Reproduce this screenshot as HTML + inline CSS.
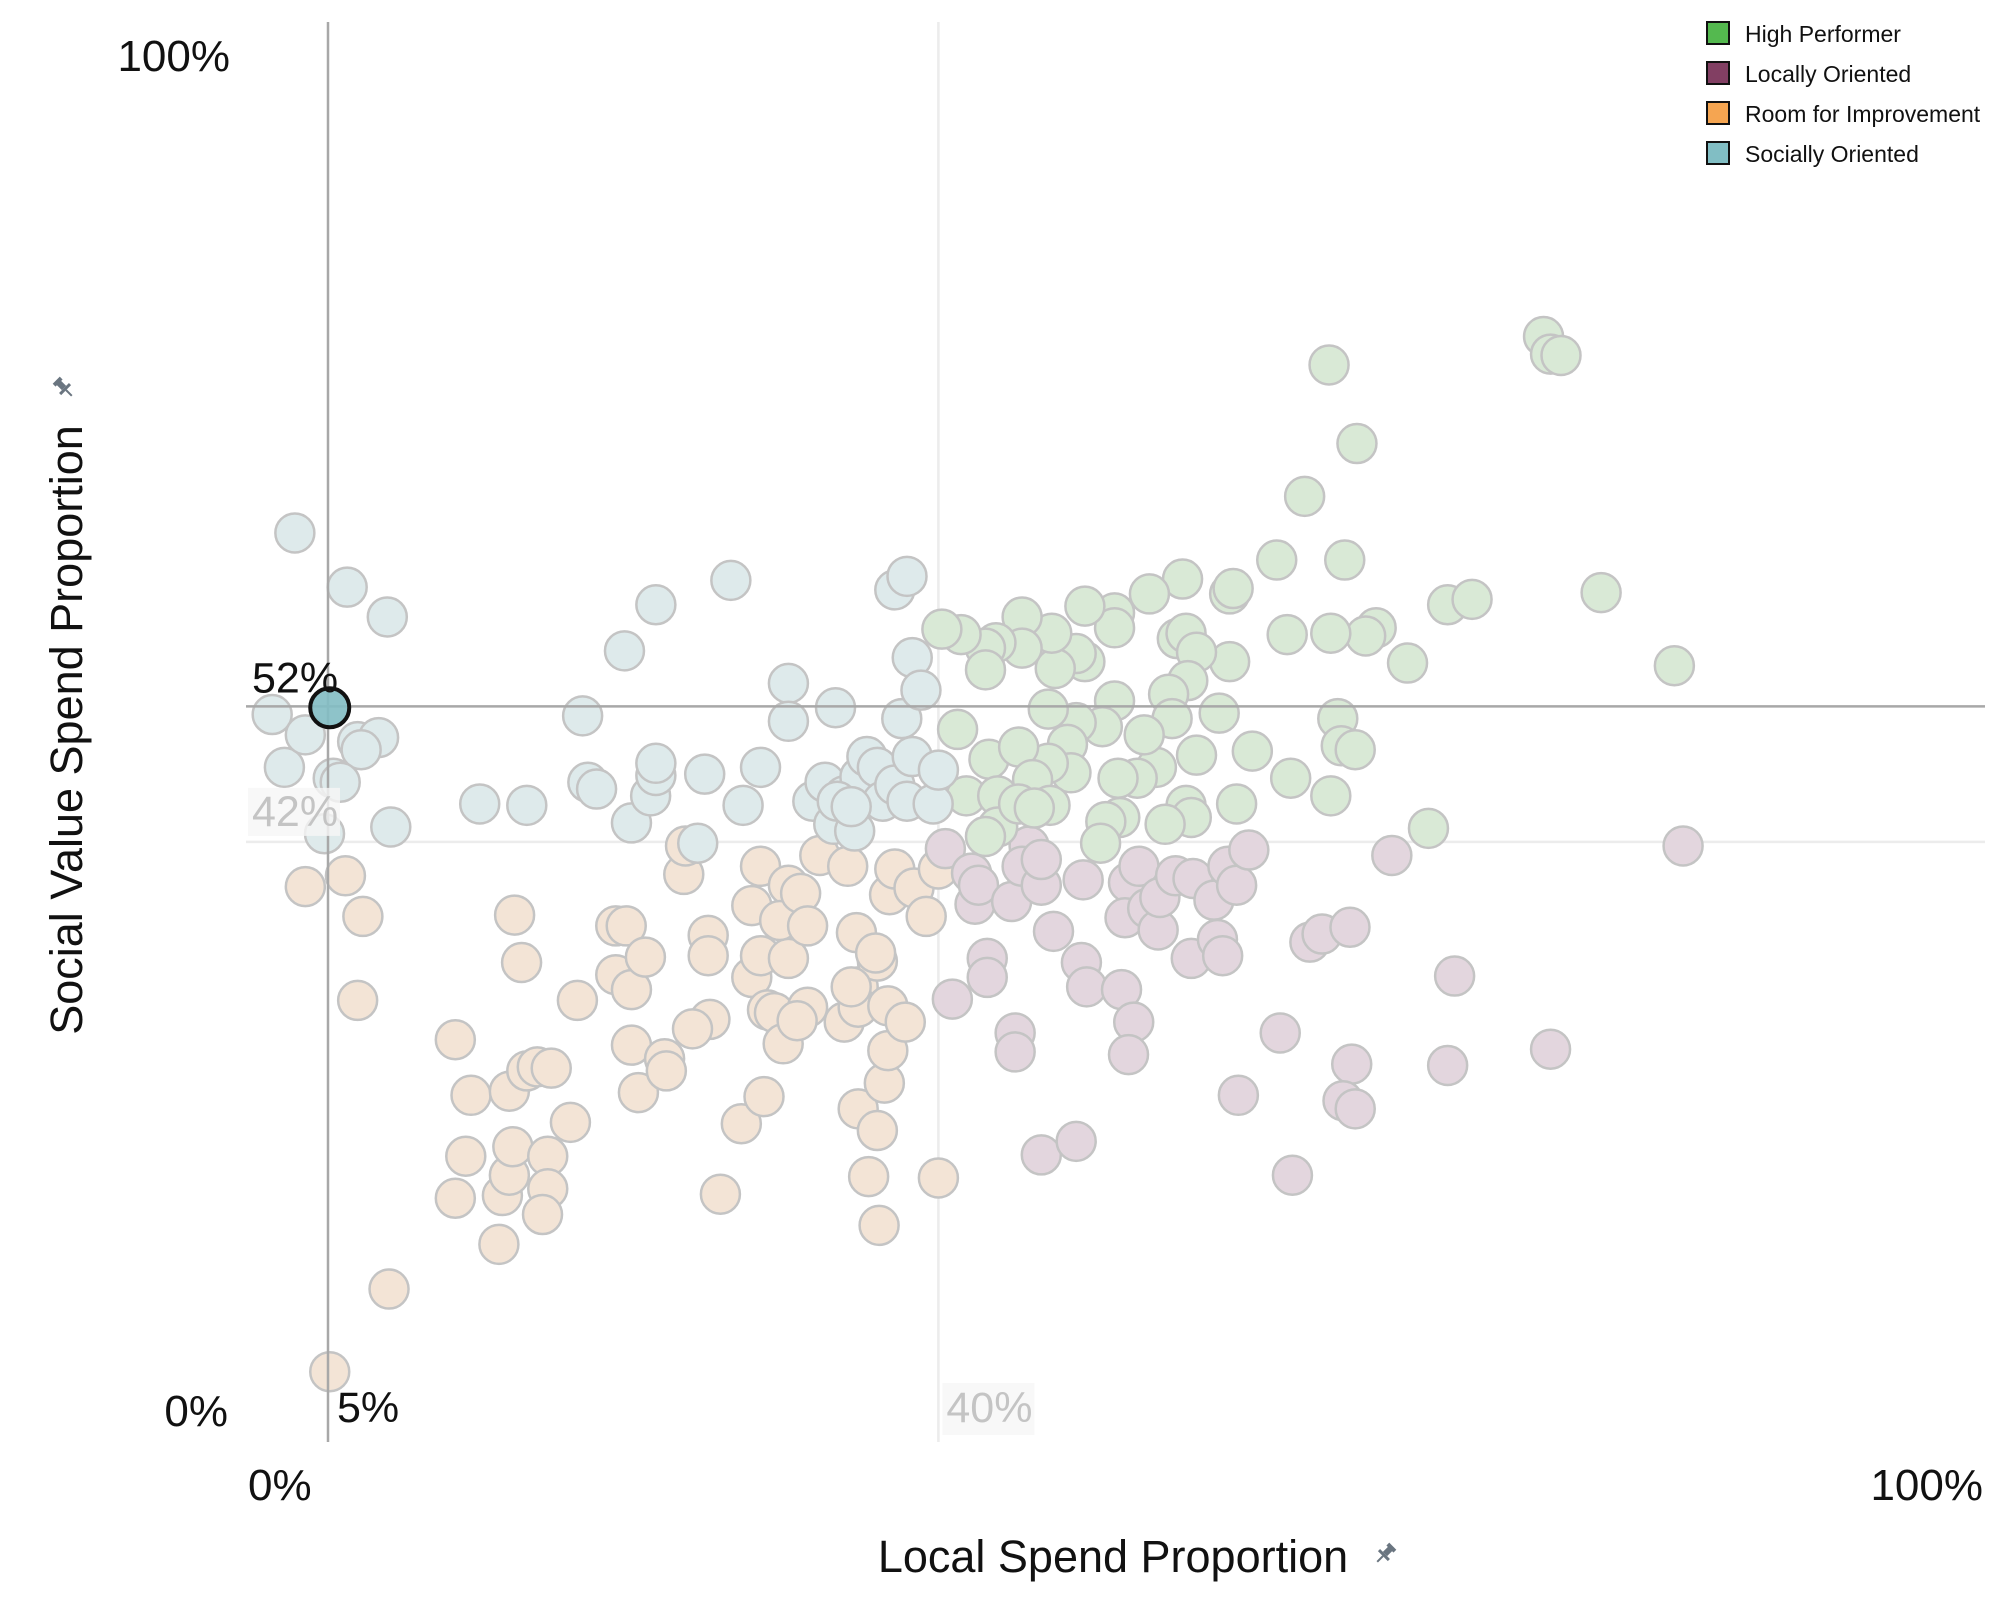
<!DOCTYPE html>
<html><head><meta charset="utf-8">
<style>
html,body{margin:0;padding:0;background:#fff;}
svg{display:block;font-family:"Liberation Sans",sans-serif;}
</style></head>
<body>
<svg id="chart" width="2000" height="1600" viewBox="0 0 2000 1600" xmlns="http://www.w3.org/2000/svg">
  <g id="grid"></g>
  <g id="marks"></g>
  <g id="labels"></g>
  <g font-size="23" fill="#111">
    <g><rect x="1707" y="22" width="22" height="22" fill="#54b94f" stroke="#111" stroke-width="2"/><text x="1745" y="42">High Performer</text></g>
    <g><rect x="1707" y="62" width="22" height="22" fill="#823f63" stroke="#111" stroke-width="2"/><text x="1745" y="82">Locally Oriented</text></g>
    <g><rect x="1707" y="102" width="22" height="22" fill="#f5a551" stroke="#111" stroke-width="2"/><text x="1745" y="122">Room for Improvement</text></g>
    <g><rect x="1707" y="142" width="22" height="22" fill="#81bec4" stroke="#111" stroke-width="2"/><text x="1745" y="162">Socially Oriented</text></g>
  </g>
  <text x="1113" y="1572" font-size="45" text-anchor="middle" fill="#111">Local Spend Proportion</text>
  <g transform="translate(1385,1554) rotate(45)" fill="#6a7580">
    <rect x="-5" y="-11" width="10" height="4"/><rect x="-3" y="-8" width="6" height="8"/><rect x="-7" y="0" width="14" height="3"/><rect x="-1" y="3" width="2" height="8"/>
  </g>
  <text transform="translate(82,730) rotate(-90)" font-size="45" text-anchor="middle" fill="#111">Social Value Spend Proportion</text>
  <g transform="translate(64,388) rotate(-45)" fill="#6a7580">
    <rect x="-5" y="-11" width="10" height="4"/><rect x="-3" y="-8" width="6" height="8"/><rect x="-7" y="0" width="14" height="3"/><rect x="-1" y="3" width="2" height="8"/>
  </g>
</svg>
<script>
const xTicks = [0, 100];
const yTicks = [0, 100];
const xTickLabels = ["0%", "100%"];
const yTickLabels = ["0%", "100%"];
const refX = [5, 40];
const refY = [52, 42];
const highlightPoint = [5.1, 51.9];

const socialX = [3.1,6.1,8.4,1.8,2.5,3.7,6.7,7.9,6.9,5.3,5.7,4.8,8.6,13.7,16.4,19.6,19.9,20.4,22.0,22.4,23.5,23.8,23.8,23.8,26.6,28.1,28.8,29.8,26.2,31.4,31.4,32.8,33.5,34.1,34.0,35.2,34.6,35.5,35.9,36.5,36.8,37.5,37.9,37.5,38.2,38.5,38.5,39.0,38.2,39.7,40.0,34.2,35.0];
const socialY = [64.8,60.8,58.6,51.4,47.5,49.9,49.4,49.7,48.8,46.7,46.4,42.6,43.1,44.8,44.7,51.3,46.4,45.9,56.1,43.4,45.4,46.9,47.8,59.5,47.0,61.3,44.7,47.5,41.9,53.7,50.9,45.0,46.4,51.9,43.3,42.8,45.4,46.8,48.3,47.5,45.0,46.2,51.1,60.6,61.6,48.3,55.6,53.2,45.0,44.8,47.3,45.0,44.6];

const roomX = [3.7,6.0,7.0,6.7,12.3,13.2,12.3,12.9,14.8,15.0,15.4,15.6,15.4,16.4,17.0,17.8,17.6,17.6,17.3,18.9,15.7,16.1,19.3,8.5,5.1,21.5,22.1,21.5,22.4,23.2,22.4,22.8,24.3,24.4,25.4,25.5,26.8,26.8,26.9,25.9,28.7,27.5,29.3,29.3,29.8,29.8,30.0,30.2,30.6,31.1,31.4,31.4,30.9,32.1,32.5,32.5,31.9,33.2,34.6,34.8,35.3,35.4,35.4,35.4,36.0,36.6,36.5,36.9,37.1,37.1,36.5,36.4,37.2,37.5,38.1,38.6,39.3,40.0,40.0,35.0];
const roomY = [38.7,39.5,36.5,30.3,27.4,23.3,15.7,18.8,12.3,15.9,17.4,19.5,23.6,25.1,25.4,25.3,18.8,16.4,14.5,21.3,36.6,33.1,30.3,9.0,2.9,35.8,35.8,32.2,31.1,33.5,27.0,23.5,26.0,25.1,39.6,41.7,35.1,33.6,28.9,28.2,21.2,16.0,32.0,37.3,40.2,33.6,23.2,29.6,29.4,27.1,33.4,38.8,36.2,38.2,35.8,29.8,28.8,41.0,28.7,40.2,35.3,31.3,29.8,22.3,17.3,13.7,20.7,24.2,26.6,29.9,33.2,33.8,38.1,40.0,28.7,38.6,36.5,17.2,40.0,31.3];

const localX = [40.4,41.9,42.1,42.3,40.8,42.8,42.8,44.2,44.4,44.4,45.2,44.8,45.9,45.9,46.6,45.9,47.9,48.3,48.2,48.5,50.5,51.2,50.9,50.9,51.5,50.7,52.0,52.6,52.7,53.6,54.6,54.5,55.8,56.0,56.3,56.6,57.1,57.8,57.2,59.6,60.3,61.3,62.0,63.6,63.7,63.2,63.9,66.0,69.2,69.6,75.1,82.7];
const localY = [41.5,39.7,37.4,38.8,30.4,33.4,32.0,37.6,27.9,26.5,41.7,40.2,38.8,40.7,35.4,18.9,19.9,39.2,33.1,31.3,31.1,28.7,26.3,39.0,40.2,36.4,37.1,35.5,37.9,39.5,39.3,33.4,37.7,34.8,33.6,40.2,38.8,41.4,23.3,27.9,17.4,34.6,35.2,35.7,25.6,22.9,22.3,41.0,25.5,32.1,26.7,41.7];

const highX = [62.4,64.0,74.7,75.1,75.7,61.0,59.4,63.3,78.0,82.2,69.2,70.6,65.1,64.5,62.5,60.0,66.9,62.9,63.1,63.9,60.2,62.5,68.1,58.0,57.1,56.7,56.7,56.9,54.0,52.1,50.1,50.1,48.4,53.7,54.2,54.8,54.3,53.2,53.4,56.1,54.8,52.5,51.4,51.8,54.2,54.5,53.0,50.3,50.4,49.6,49.3,50.1,49.4,47.9,48.4,47.9,46.7,46.5,46.3,47.4,47.6,46.3,44.8,44.8,43.3,42.7,42.7,41.3,40.2,41.1,42.9,44.6,41.6,43.4,43.4,42.7,45.4,44.6,46.4,45.5];
const highY = [77.2,71.4,79.3,78.0,77.9,67.5,62.8,62.8,60.4,55.0,59.5,59.9,57.8,57.2,57.4,57.3,55.2,51.1,49.1,48.8,46.7,45.4,43.0,48.7,44.8,55.3,60.3,60.7,61.4,60.3,58.9,57.8,59.4,57.0,57.4,56.0,53.9,52.9,51.1,51.5,48.4,47.5,46.7,49.9,44.7,43.8,43.3,46.7,43.8,43.5,41.9,52.4,50.5,50.8,55.3,55.9,54.8,57.4,51.8,49.2,47.1,47.8,58.6,56.3,56.7,56.3,54.7,57.3,57.7,50.3,48.1,49.0,45.4,45.4,43.1,42.4,46.6,44.8,44.7,44.5];

const NS = "http://www.w3.org/2000/svg";
const X0 = 240.8, XK = 17.44, Y0 = 1411, YK = 13.55;
function xScale(v){ return X0 + v * XK; }
function yScale(v){ return Y0 - v * YK; }
function mk(tag, attrs, parent){
  const e = document.createElementNS(NS, tag);
  for (const k in attrs) e.setAttribute(k, attrs[k]);
  parent.appendChild(e);
  return e;
}
const grid = document.getElementById('grid');
const marks = document.getElementById('marks');
const labels = document.getElementById('labels');

const lv = mk('line', {x1:xScale(refX[1]), x2:xScale(refX[1]), y1:22, y2:1442, stroke:'#ececec', 'stroke-width':2.5}, grid);


const lh = mk('line', {x1:246, x2:1985, y1:yScale(refY[1]), y2:yScale(refY[1]), stroke:'#ececec', 'stroke-width':2.5}, grid);



function drawSeries(xs, ys, fill, name){
  for (let i = 0; i < xs.length; i++){
    const c = mk('circle', {cx:xScale(xs[i]), cy:yScale(ys[i]), r:19.5, fill:fill, stroke:'#c4c4c4', 'stroke-width':2.5}, marks);
    
    
  }
}
drawSeries(roomX, roomY, '#f3e4d6', 'room-for-improvement');
drawSeries(localX, localY, '#e3d6de', 'locally-oriented');
drawSeries(highX, highY, '#d9e9d6', 'high-performer');
drawSeries(socialX, socialY, '#deeaeb', 'socially-oriented');

const dv = mk('line', {x1:xScale(refX[0]), x2:xScale(refX[0]), y1:22, y2:1442, stroke:'#a8a8a8', 'stroke-width':2.5}, marks);


const dh = mk('line', {x1:246, x2:1985, y1:yScale(refY[0]), y2:yScale(refY[0]), stroke:'#a8a8a8', 'stroke-width':2.5}, marks);



const hp = mk('circle', {cx:xScale(highlightPoint[0]), cy:yScale(highlightPoint[1]), r:19.5, fill:'#82bdc3', 'fill-opacity':0.9, stroke:'#111', 'stroke-width':4}, marks);



function txt(s, attrs, name){
  const t = mk('text', attrs, labels);
  t.textContent = s;
  
  
  return t;
}
txt(yTickLabels[0], {x:228, y:yScale(yTicks[0]) + 15, 'font-size':44, 'text-anchor':'end', fill:'#111'}, 'y-tick-0');
txt(yTickLabels[1], {x:230, y:yScale(yTicks[1]) + 15, 'font-size':44, 'text-anchor':'end', fill:'#111'}, 'y-tick-100');
txt(xTickLabels[0], {x:248, y:1500, 'font-size':44, fill:'#111'}, 'x-tick-0');
txt(xTickLabels[1], {x:1983, y:1500, 'font-size':44, 'text-anchor':'end', fill:'#111'}, 'x-tick-100');
txt(refY[0] + '%', {x:252, y:yScale(refY[0]) - 14, 'font-size':43, fill:'#111'}, 'ref-label-y-52');
const b1 = mk('rect', {x:248, y:yScale(refY[1]) - 54, width:92, height:48, fill:'#f6f6f6', 'fill-opacity':0.8}, labels);


txt(refY[1] + '%', {x:252, y:yScale(refY[1]) - 16, 'font-size':43, fill:'#c4c4c4'}, 'ref-label-y-42');
txt(refX[0] + '%', {x:xScale(refX[0]) + 9, y:1422, 'font-size':43, fill:'#111'}, 'ref-label-x-5');
const b2 = mk('rect', {x:xScale(refX[1]) + 4, y:1383, width:92, height:52, fill:'#f6f6f6', 'fill-opacity':0.8}, labels);


txt(refX[1] + '%', {x:xScale(refX[1]) + 8, y:1422, 'font-size':43, fill:'#c4c4c4'}, 'ref-label-x-40');
</script>
</body></html>
